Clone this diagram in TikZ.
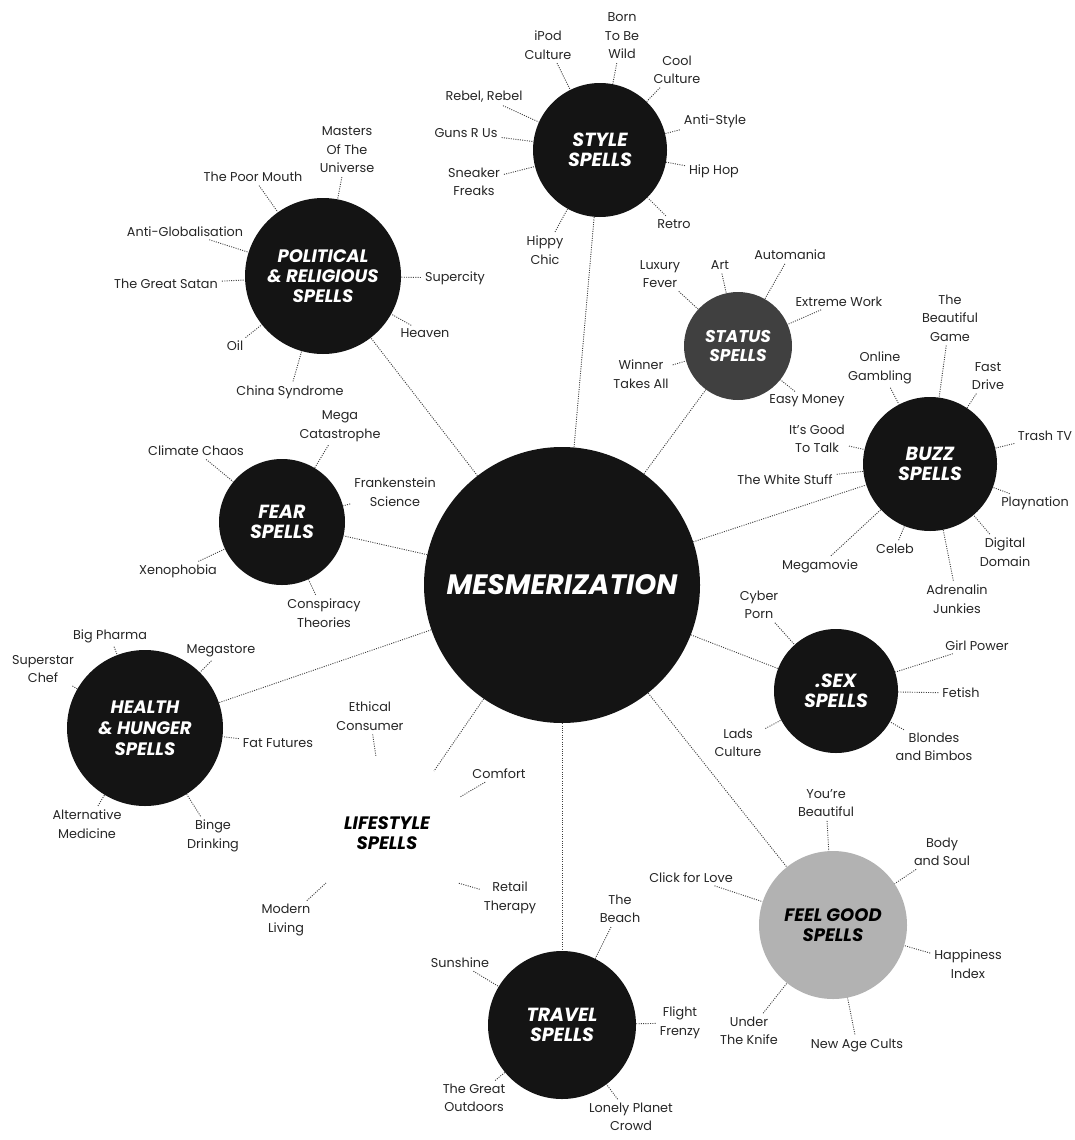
\documentclass[tikz,border=0pt]{standalone}
\usepackage{fontspec}
\setmainfont{Poppins}
\newcommand\labfont{\fontsize{12.8}{18.5}\selectfont}
\tikzset{
  lab/.style={font=\labfont, align=center, inner sep=2pt, text=black!85},
  spell/.style={circle, fill=black!92, inner sep=0pt, text=white, align=center},
  tf/.style 2 args={font=\fontsize{#1}{#2}\selectfont\bfseries\itshape},
  conn/.style={dash pattern=on 1pt off 1.3pt, line width=0.9pt, black!75},
  spoke/.style={dash pattern=on 1pt off 1.3pt, line width=0.9pt, black!75, shorten <=2pt},
}
\begin{document}
\begin{tikzpicture}[x=1pt,y=-1pt]
\useasboundingbox[fill=white] (0,0) rectangle (1074,1140);

% ---- spell circles ----
\node[spell, minimum size=276, tf={28}{30}] (mes) at (562,585) {MESMERIZATION};
\node[spell, minimum size=134, tf={19}{20}] (style) at (600,150) {STYLE\\SPELLS};
\node[spell, minimum size=156, tf={18}{20}] (pol) at (323,276) {POLITICAL\\\& RELIGIOUS\\SPELLS};
\node[spell, minimum size=108, fill=black!75, tf={17}{19}] (status) at (738,346) {STATUS\\SPELLS};
\node[spell, minimum size=134, tf={19}{20}] (buzz) at (930,464) {BUZZ\\SPELLS};
\node[spell, minimum size=126, tf={19}{20}] (fear) at (282,522) {FEAR\\SPELLS};
\node[spell, minimum size=156, tf={18}{21}] (health) at (145,728) {HEALTH\\\& HUNGER\\SPELLS};
\node[spell, minimum size=124, tf={19}{20}] (sex) at (836,691) {.SEX\\SPELLS};
\node[spell, minimum size=148, fill=black!30, text=black, tf={18}{20}] (feel) at (833,925) {FEEL GOOD\\SPELLS};
\node[spell, minimum size=148, tf={19}{20}] (travel) at (562,1025) {TRAVEL\\SPELLS};
\node[align=center, inner sep=0pt, tf={18}{20}] (life) at (387,833) {LIFESTYLE\\SPELLS};

% ---- main connectors ----
\draw[conn] (mes) -- (style);
\draw[conn] (mes) -- (pol);
\draw[conn] (mes) -- (status);
\draw[conn] (mes) -- (buzz);
\draw[conn] (mes) -- (fear);
\draw[conn] (mes) -- (health);
\draw[conn] (mes) -- (sex);
\draw[conn] (mes) -- (feel);
\draw[conn] (mes) -- (travel);
\coordinate (lsend) at (434,771);
\draw[conn] (mes) -- (lsend);

% ---- STYLE ----
\node[lab] (s1) at (548,45) {iPod\\Culture};
\node[lab] (s2) at (622,36) {Born\\To Be\\Wild};
\node[lab] (s3) at (677,70) {Cool\\Culture};
\node[lab] (s4) at (715,121) {Anti-Style};
\node[lab] (s5) at (714,171) {Hip Hop};
\node[lab] (s6) at (674,224) {Retro};
\node[lab] (s7) at (545,250) {Hippy\\Chic};
\node[lab] (s8) at (474,182) {Sneaker\\Freaks};
\node[lab] (s9) at (466,133) {Guns R Us};
\node[lab] (s10) at (484,97) {Rebel, Rebel};
\foreach \n in {s1,s2,s3,s4,s5,s6,s7,s8,s9,s10} \draw[spoke] (\n) -- (style);

% ---- POLITICAL ----
\node[lab] (p1) at (347,150) {Masters\\Of The\\Universe};
\node[lab] (p2) at (253,177) {The Poor Mouth};
\node[lab] (p3) at (185,232) {Anti-Globalisation};
\node[lab] (p4) at (166,284) {The Great Satan};
\node[lab] (p5) at (235,346) {Oil};
\node[lab] (p6) at (290,392) {China Syndrome};
\node[lab] (p7) at (425,333) {Heaven};
\node[lab] (p8) at (455,278) {Supercity};
\foreach \n in {p1,p2,p3,p4,p5,p6,p7,p8} \draw[spoke] (\n) -- (pol);

% ---- STATUS ----
\node[lab] (t1) at (660,274) {Luxury\\Fever};
\node[lab] (t2) at (720,265) {Art};
\node[lab] (t3) at (790,255) {Automania};
\node[lab] (t4) at (839,302) {Extreme Work};
\node[lab] (t5) at (641,374) {Winner\\Takes All};
\node[lab] (t6) at (807,401) {Easy Money};
\foreach \n in {t1,t2,t3,t4,t5,t6} \draw[spoke] (\n) -- (status);

% ---- BUZZ ----
\node[lab] (b1) at (950,318) {The\\Beautiful\\Game};
\node[lab] (b2) at (880,368) {Online\\Gambling};
\node[lab] (b3) at (988,376) {Fast\\Drive};
\node[lab] (b4) at (1045,436) {Trash TV};
\node[lab] (b5) at (1035,503) {Playnation};
\node[lab] (b6) at (1005,552) {Digital\\Domain};
\node[lab] (b7) at (957,599) {Adrenalin\\Junkies};
\node[lab] (b8) at (895,549) {Celeb};
\node[lab] (b9) at (820,566) {Megamovie};
\node[lab] (b10) at (785,480) {The White Stuff};
\node[lab] (b11) at (817,439) {It's Good\\To Talk};
\foreach \n in {b1,b2,b3,b4,b5,b6,b7,b8,b9,b10,b11} \draw[spoke] (\n) -- (buzz);

% ---- FEAR ----
\node[lab] (f1) at (196,451) {Climate Chaos};
\node[lab] (f2) at (340,426) {Mega\\Catastrophe};
\node[lab] (f3) at (395,492) {Frankenstein\\Science};
\node[lab] (f4) at (178,571) {Xenophobia};
\node[lab] (f5) at (324,613) {Conspiracy\\Theories};
\foreach \n in {f1,f2,f3,f4,f5} \draw[spoke] (\n) -- (fear);

% ---- HEALTH ----
\node[lab] (h1) at (110,636) {Big Pharma};
\node[lab] (h2) at (43,669) {Superstar\\Chef};
\node[lab] (h3) at (221,651) {Megastore};
\node[lab] (h4) at (278,743) {Fat Futures};
\node[lab] (h5) at (213,836) {Binge\\Drinking};
\node[lab] (h6) at (87,824) {Alternative\\Medicine};
\foreach \n in {h1,h2,h3,h4,h5,h6} \draw[spoke] (\n) -- (health);

% ---- SEX ----
\node[lab] (x1) at (759,605) {Cyber\\Porn};
\node[lab] (x2) at (977,646) {Girl Power};
\node[lab] (x3) at (961,693) {Fetish};
\node[lab] (x4) at (934,747) {Blondes\\and Bimbos};
\node[lab] (x5) at (738,743) {Lads\\Culture};
\foreach \n in {x1,x2,x3,x4,x5} \draw[spoke] (\n) -- (sex);

% ---- FEEL GOOD ----
\node[lab] (g1) at (826,803) {You're\\Beautiful};
\node[lab] (g2) at (942,852) {Body\\and Soul};
\node[lab] (g3) at (691,878) {Click for Love};
\node[lab] (g4) at (968,964) {Happiness\\Index};
\node[lab] (g5) at (749,1031) {Under\\The Knife};
\node[lab] (g6) at (857,1045) {New Age Cults};
\foreach \n in {g1,g2,g3,g4,g5,g6} \draw[spoke] (\n) -- (feel);

% ---- TRAVEL ----
\node[lab] (v1) at (620,909) {The\\Beach};
\node[lab] (v2) at (460,963) {Sunshine};
\node[lab] (v3) at (680,1023) {Flight\\Frenzy};
\node[lab] (v4) at (474,1098) {The Great\\Outdoors};
\node[lab] (v5) at (631,1117) {Lonely Planet\\Crowd};
\foreach \n in {v1,v2,v3,v4,v5} \draw[spoke] (\n) -- (travel);

% ---- LIFESTYLE ----
\node[lab] (l1) at (370,716) {Ethical\\Consumer};
\node[lab] (l2) at (499,774) {Comfort};
\node[lab] (l3) at (510,898) {Retail\\Therapy};
\node[lab] (l4) at (286,920) {Modern\\Living};
\coordinate (l1e) at (376,757);
\coordinate (l2e) at (460,797);
\coordinate (l3e) at (458,883);
\coordinate (l4e) at (326,883);
\draw[spoke] (l1) -- (l1e);
\draw[spoke] (l2) -- (l2e);
\draw[spoke] (l3) -- (l3e);
\draw[spoke] (l4) -- (l4e);
\end{tikzpicture}
\end{document}
